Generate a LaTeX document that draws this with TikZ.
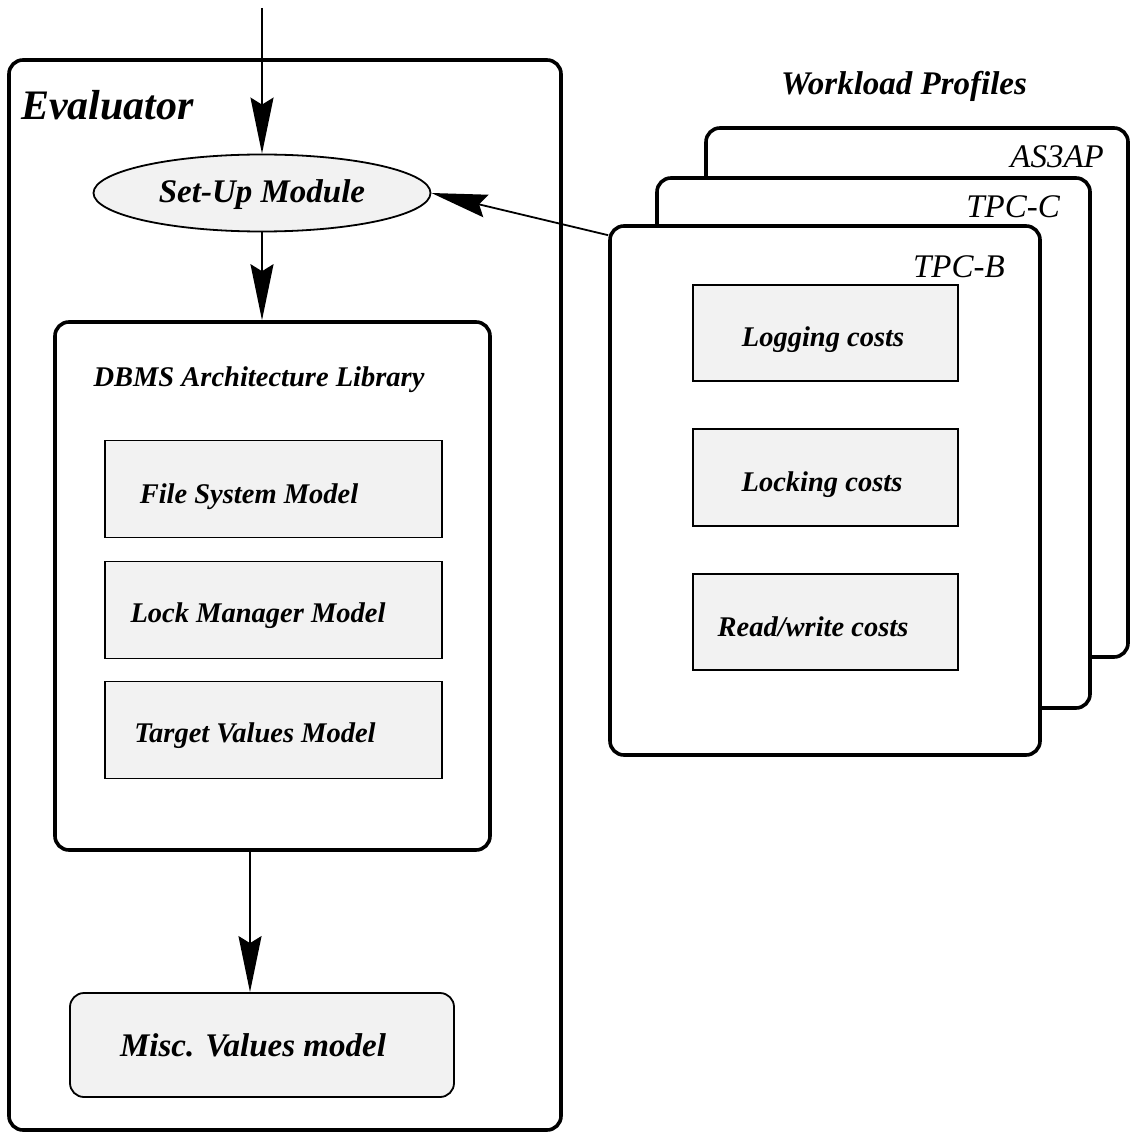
\documentclass[tikz,border=0pt]{standalone}
\usepackage{fontspec}
\setmainfont{Liberation Serif}
\usetikzlibrary{arrows.meta,shapes.geometric,calc}
\definecolor{boxgray}{RGB}{242,242,242}
\begin{document}
\begin{tikzpicture}[x=1pt,y=-1pt,
  bigbox/.style={draw, line width=3.6pt, rounded corners=14pt, fill=white, inner sep=0pt},
  graybox/.style={draw, line width=1.8pt, fill=boxgray, inner sep=0pt},
  roundgray/.style={graybox, rounded corners=14pt},
  lbl/.style={font=\fontsize{28.5}{30}\selectfont\bfseries\itshape, inner sep=0pt, anchor=base},
  biglbl/.style={font=\fontsize{33}{35}\selectfont\bfseries\itshape, inner sep=0pt, anchor=base},
  proflbl/.style={font=\fontsize{33}{35}\selectfont\itshape, inner sep=0pt, anchor=base east},
  conn/.style={line width=1.8pt, -{Stealth[length=56pt,width=23pt,inset=7pt]}}]
\useasboundingbox (0,0) rectangle (1130,1139);

% Evaluator
\node[bigbox, minimum width=552pt, minimum height=1070pt] (eval) at (285,595) {};
\node[font=\fontsize{42}{44}\selectfont\bfseries\itshape, inner sep=0pt, anchor=base west] (evalT) at (21,120) {Evaluator};

\node[ellipse, graybox, minimum width=337pt, minimum height=77pt] (setup) at (262,193) {};
\node[biglbl] (setupT) at (262,203) {Set-Up Module};

\node[bigbox, minimum width=435pt, minimum height=528pt] (dbms) at (272.5,586) {};
\node[lbl] (dbmsT) at (259,386) {DBMS Architecture Library};

\node[graybox, minimum width=337pt, minimum height=97pt] (fs) at (273.5,489) {};
\node[lbl] (fsT) at (249,503) {File System Model};
\node[graybox, minimum width=337pt, minimum height=97pt] (lm) at (273.5,610) {};
\node[lbl] (lmT) at (258,622) {Lock Manager Model};
\node[graybox, minimum width=337pt, minimum height=97pt] (tv) at (273.5,730) {};
\node[lbl] (tvT) at (255,742) {Target Values Model};

\node[roundgray, minimum width=384pt, minimum height=104pt] (misc) at (262,1045) {};
\node[biglbl] (miscT) at (253,1056) {Misc. Values model};

% Workload profiles
\node[biglbl] (wpT) at (904,95) {Workload Profiles};
\node[bigbox, minimum width=422pt, minimum height=529pt] (as3ap) at (917,392.5) {};
\node[proflbl] (as3apT) at (1104,168) {AS3AP};
\node[bigbox, minimum width=433pt, minimum height=530pt] (tpcc) at (873.5,443) {};
\node[proflbl] (tpccT) at (1060,218) {TPC-C};
\node[bigbox, minimum width=430pt, minimum height=529pt] (tpcb) at (825,490.5) {};
\node[proflbl] (tpcbT) at (1005,278) {TPC-B};

\node[graybox, minimum width=265pt, minimum height=96pt] (log) at (825.5,333) {};
\node[lbl] (logT) at (823,346) {Logging costs};
\node[graybox, minimum width=265pt, minimum height=97pt] (lock) at (825.5,477.5) {};
\node[lbl] (lockT) at (822,491) {Locking costs};
\node[graybox, minimum width=265pt, minimum height=96pt] (rw) at (825.5,622) {};
\node[lbl] (rwT) at (813,636) {Read/write costs};

% connectors
\coordinate (inp) at (262,8);
\draw[conn] (inp) -- (setup.north);
\draw[conn] (setup.south) -- (setup.south |- dbms.north);
\coordinate (dout) at (250,850);
\draw[conn] (dout) -- (dout |- misc.north);
\coordinate (wstart) at ($(tpcb.north west)+(0,11)$);
\draw[conn] (wstart) -- (setup.east);
\end{tikzpicture}
\end{document}
